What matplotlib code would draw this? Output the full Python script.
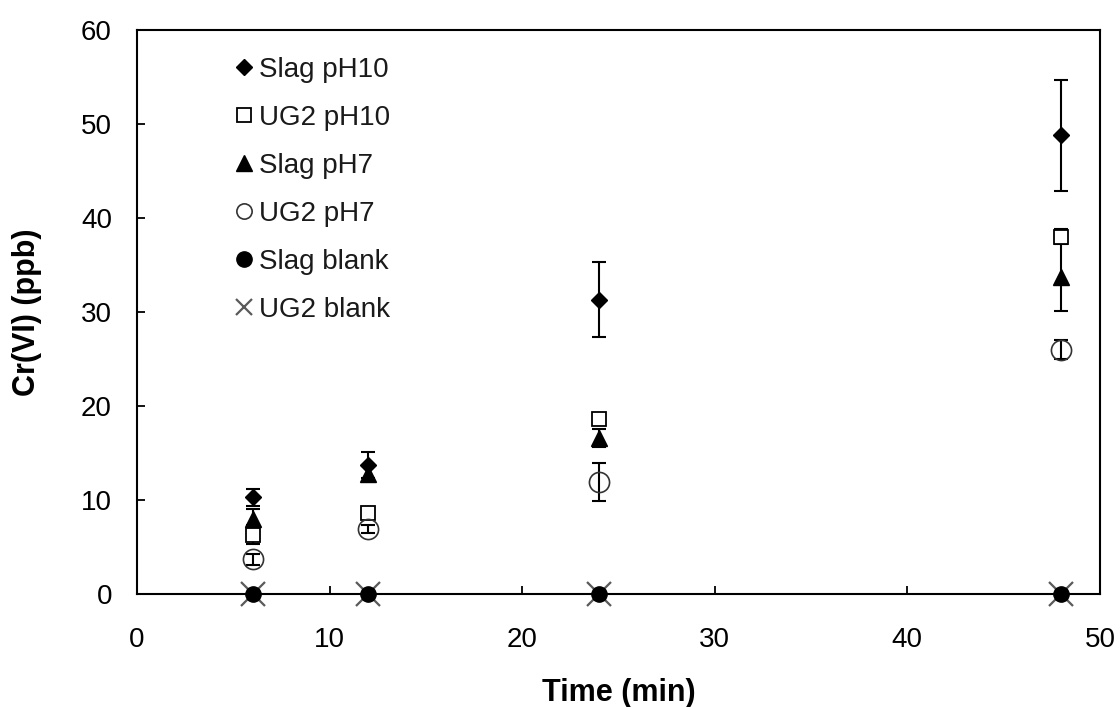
import matplotlib
matplotlib.use("Agg")
import matplotlib.pyplot as plt

plt.rcParams['font.family'] = ['Liberation Sans', 'DejaVu Sans']

time_min = [6, 12, 24, 48]

slag_ph10 = [10.3, 13.7, 31.3, 48.8]
slag_ph10_err = [0.9, 1.4, 4.0, 5.9]
ug2_ph10 = [6.3, 8.6, 18.6, 38.0]
ug2_ph10_err = [1.0, 0.5, 0.5, 0.8]
slag_ph7 = [8.0, 12.8, 16.6, 33.7]
slag_ph7_err = [1.0, 0.8, 1.0, 3.6]
ug2_ph7 = [3.7, 6.9, 11.9, 26.0]
ug2_ph7_err = [0.6, 0.4, 2.0, 1.0]
slag_blank = [0, 0, 0, 0]
ug2_blank = [0, 0, 0, 0]

labels = ["Slag pH10", "UG2 pH10", "Slag pH7", "UG2 pH7", "Slag blank", "UG2 blank"]

fig = plt.figure(figsize=(11.2, 7.07), dpi=100)
ax = fig.add_axes([0.1223, 0.1598, 0.8598, 0.7978])

series = [
    (slag_ph10, slag_ph10_err, dict(marker='D', ms=8, mfc='black', mec='black')),
    (ug2_ph10, ug2_ph10_err, dict(marker='s', ms=9.5, mfc='white', mec='black', mew=1.3)),
    (slag_ph7, slag_ph7_err, dict(marker='^', ms=11, mfc='black', mec='black')),
    (ug2_ph7, ug2_ph7_err, dict(marker='o', ms=14.5, mfc='none', mec='#333333', mew=1.2)),
]
legend_ms = [8, 10.5, 11, 11, 11, 12]

handles = []
for (vals, errs, st), lab in zip(series, labels[:4]):
    ax.errorbar(time_min, vals, yerr=errs, fmt='none', ecolor='black',
                elinewidth=1.5, capsize=4.7, capthick=1.5, zorder=3)
    h, = ax.plot(time_min, vals, linestyle='none', label=lab, zorder=4, **st)
    handles.append(h)

h5, = ax.plot(time_min, slag_blank, linestyle='none', marker='o', ms=11,
              mfc='black', mec='black', label=labels[4], zorder=5, clip_on=False)
h6, = ax.plot(time_min, ug2_blank, linestyle='none', marker='x', ms=17,
              mec='#5a5a5a', mew=1.6, label=labels[5], zorder=4, clip_on=False)
handles += [h5, h6]

ax.set_xlim(0, 50)
ax.set_ylim(0, 60)
ax.set_xticks([0, 10, 20, 30, 40, 50])
ax.set_yticks([0, 10, 20, 30, 40, 50, 60])
ax.tick_params(direction='in', length=6, width=1.3, labelsize=20)
ax.tick_params(axis='x', pad=24)
ax.tick_params(axis='y', pad=18)
for s in ax.spines.values():
    s.set_linewidth(1.5)

ax.set_xlabel("Time (min)", fontsize=22, fontweight='bold', labelpad=18)
ax.set_ylabel("Cr(VI) (ppb)", fontsize=22, fontweight='bold', labelpad=28)

leg = ax.legend(handles=handles, loc='upper left', bbox_to_anchor=(0.091, 0.972),
                frameon=False, fontsize=20, handlelength=0.6, handletextpad=0.25,
                labelspacing=0.79, borderaxespad=0)
for t in leg.get_texts():
    t.set_color('#1a1a1a')
for lh, ms in zip(leg.legend_handles, legend_ms):
    lh.set_markersize(ms)

fig.savefig("out.png", dpi=100)
